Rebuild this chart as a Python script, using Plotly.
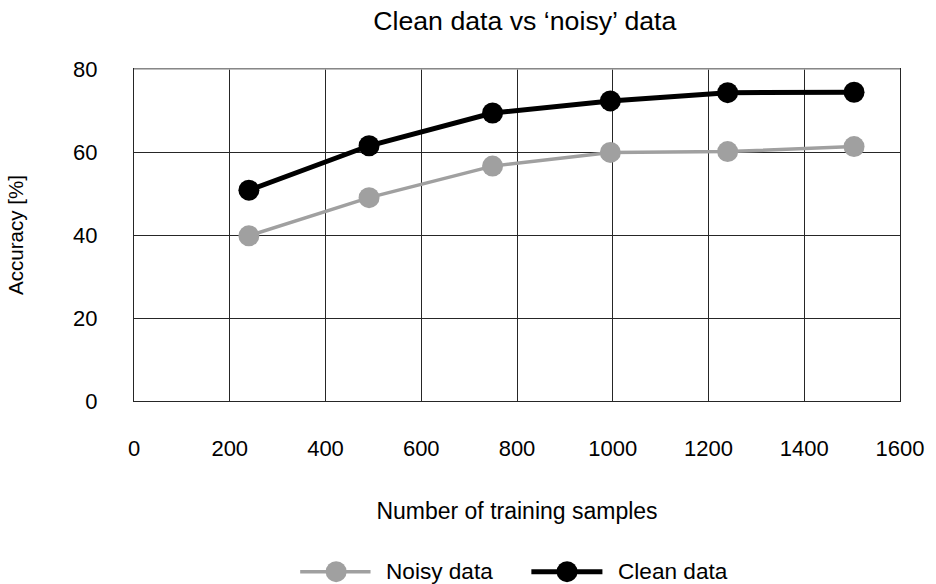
import plotly.graph_objects as go

samples = [240, 491, 749, 995, 1240, 1504]
noisy_acc = [39.8, 49.0, 56.6, 59.9, 60.1, 61.3]
clean_acc = [50.8, 61.5, 69.4, 72.3, 74.3, 74.4]

x_ticks = [0, 200, 400, 600, 800, 1000, 1200, 1400, 1600]
y_ticks = [0, 20, 40, 60, 80]

series_names = ["Noisy data", "Clean data"]
series_colors = ["#A0A0A0", "#000000"]
series_widths = [3.5, 5]

FONT = "Liberation Sans, Arial, sans-serif"
W, H = 936, 584
ML, MR, MT, MB = 134, 29, 69, 183
PW, PH = W - ML - MR, H - MT - MB


def fx(px):
    return (px - ML) / PW


def fy(py):
    return 1 - (py - MT) / PH


fig = go.Figure()
for name, vals, col, lw in zip(series_names, [noisy_acc, clean_acc], series_colors, series_widths):
    fig.add_trace(go.Scatter(
        x=samples, y=vals, name=name, mode="lines+markers",
        line=dict(color=col, width=lw),
        marker=dict(color=col, size=21),
        showlegend=False,
    ))

fig.update_layout(
    width=W, height=H,
    margin=dict(l=ML, r=MR, t=MT, b=MB, pad=0),
    paper_bgcolor="white", plot_bgcolor="white",
    font=dict(family=FONT, size=22, color="#000000"),
    title=dict(text="Clean data vs ‘noisy’ data", font=dict(size=26.7, family=FONT),
               x=0.5607, xref="container", xanchor="center",
               y=0.964, yref="container", yanchor="middle"),
    xaxis=dict(range=[0, 1600], tickvals=x_ticks, showgrid=True,
               gridcolor="#262626", gridwidth=1.3, zeroline=False,
               showline=True, linecolor="#262626", linewidth=1.3, mirror=True,
               ticks="", ticklabelstandoff=27,
               title=dict(text="Number of training samples", standoff=43, font=dict(size=23))),
    yaxis=dict(range=[0, 80], tickvals=y_ticks, showgrid=True,
               gridcolor="#262626", gridwidth=1.3, zeroline=False,
               showline=True, linecolor="#262626", linewidth=1.3, mirror=True,
               ticks="", ticklabelstandoff=31,
               title=dict(text="Accuracy [%]", standoff=43, font=dict(size=20.6))),
    showlegend=False,
)
fig.add_shape(type="line", xref="paper", yref="paper", x0=0, x1=1, y0=1, y1=1,
              line=dict(color="#A8A8A8", width=1.3), layer="above")

# manual legend
leg_y = 571.7
leg_items = [  # (line start, line end, marker centre, text left)
    (301.7, 372.7, 338, 386.7),
    (535, 606.7, 571, 620),
]
for name, col, lw, (l0, l1, mc, tx) in zip(series_names, series_colors, series_widths, leg_items):
    fig.add_shape(type="line", xref="paper", yref="paper",
                  x0=fx(l0), x1=fx(l1), y0=fy(leg_y), y1=fy(leg_y),
                  line=dict(color=col, width=lw))
    fig.add_shape(type="circle", xref="paper", yref="paper",
                  xsizemode="pixel", ysizemode="pixel",
                  xanchor=fx(mc), yanchor=fy(leg_y),
                  x0=-10.5, x1=10.5, y0=-10.5, y1=10.5,
                  fillcolor=col, line=dict(width=0))
    fig.add_annotation(text=name, xref="paper", yref="paper",
                       x=fx(tx), y=fy(leg_y), xanchor="left", yanchor="middle",
                       showarrow=False, font=dict(size=22.6, family=FONT, color="#000000"))

fig.write_html("out.html")
